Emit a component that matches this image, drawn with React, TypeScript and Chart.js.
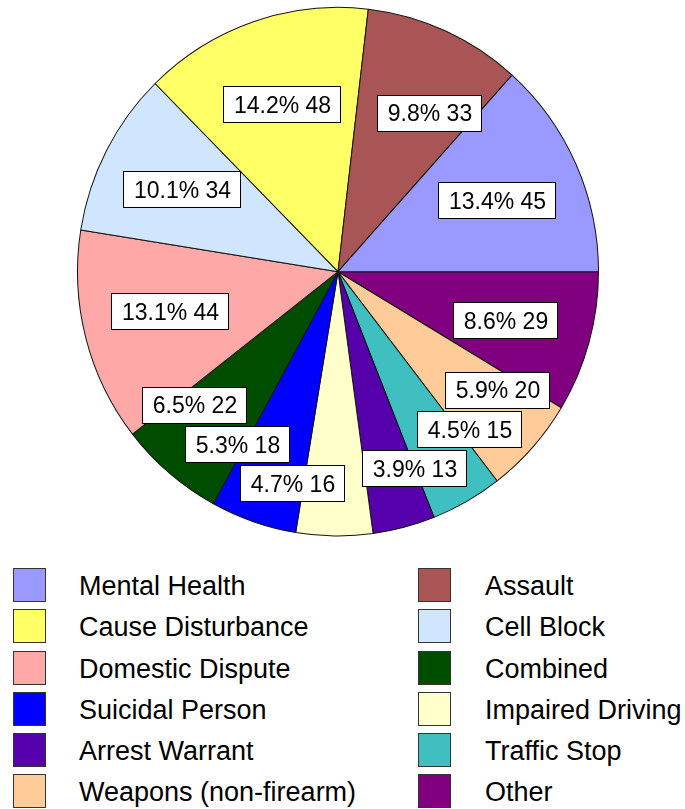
import React, { useEffect, useRef } from "react";
import { Chart, registerables } from "chart.js";

Chart.register(...registerables);

// ---- data ----
const CATEGORIES = [
  "Mental Health",
  "Assault",
  "Cause Disturbance",
  "Cell Block",
  "Domestic Dispute",
  "Combined",
  "Suicidal Person",
  "Impaired Driving",
  "Arrest Warrant",
  "Traffic Stop",
  "Weapons (non-firearm)",
  "Other",
];
const COUNTS = [45, 33, 48, 34, 44, 22, 18, 16, 13, 15, 20, 29];
const COLORS = [
  "#9999FF",
  "#AA5555",
  "#FFFF66",
  "#D0E6FF",
  "#FFA8A8",
  "#004D00",
  "#0000FF",
  "#FFFFCC",
  "#5500AA",
  "#3FBFBF",
  "#FFCC99",
  "#800080",
];

// ---- label placement (layout only): fraction of pie radius, angular shift in degrees (ccw) ----
const LABEL_RADIUS = [0.664, 0.7, 0.674, 0.674, 0.66, 0.748, 0.763, 0.826, 0.805, 0.781, 0.755, 0.663];
const LABEL_SHIFT = [0.2, -5.5, -0.2, -0.6, -1.2, -7.0, -11.4, -11.4, 6.5, 10.2, 5.1, -0.7];

const FONT = '"Liberation Sans", Arial, Helvetica, sans-serif';
const Y_STRETCH = 1.0146;
const N = COUNTS.length;
const rev = <T,>(a: T[]) => a.slice().reverse();

const piePlugin = {
  id: "pieLabels",
  beforeDatasetsDraw(chart: any) {
    const el = chart.getDatasetMeta(0).data[0];
    const ctx = chart.ctx;
    ctx.save();
    ctx.translate(el.x, el.y);
    ctx.scale(1, Y_STRETCH);
    ctx.translate(-el.x, -el.y);
  },
  afterDatasetsDraw(chart: any) {
    const ctx = chart.ctx;
    ctx.restore();
    const meta = chart.getDatasetMeta(0);
    const total = COUNTS.reduce((a, b) => a + b, 0);
    ctx.save();
    ctx.font = `23px ${FONT}`;
    meta.data.forEach((el: any, j: number) => {
      const i = N - 1 - j;
      const { x, y, startAngle, endAngle, outerRadius } = el.getProps(
        ["x", "y", "startAngle", "endAngle", "outerRadius"],
        true
      );
      const mid = (startAngle + endAngle) / 2 - (LABEL_SHIFT[i] * Math.PI) / 180;
      const r = outerRadius * LABEL_RADIUS[i] * (262 / 260.5);
      const cx = x + Math.cos(mid) * r;
      const cy = y + Math.sin(mid) * r;
      const text = `${((COUNTS[i] / total) * 100).toFixed(1)}% ${COUNTS[i]}`;
      const w = Math.round(ctx.measureText(text).width + 19.5);
      const h = 36;
      const left = Math.round(cx - w / 2) + 0.5;
      const top = Math.round(cy - h / 2) + 0.5;
      ctx.fillStyle = "#ffffff";
      ctx.fillRect(left, top, w, h);
      ctx.strokeStyle = "#000000";
      ctx.lineWidth = 1;
      ctx.strokeRect(left, top, w, h);
      ctx.fillStyle = "#000000";
      ctx.textAlign = "center";
      ctx.textBaseline = "alphabetic";
      ctx.fillText(text, left + w / 2 + 0.5, cy + 8.7);
    });
    ctx.restore();
  },
};

export default function App() {
  const ref = useRef<HTMLCanvasElement>(null);

  useEffect(() => {
    document.body.style.margin = "0";
    const chart = new Chart(ref.current as HTMLCanvasElement, {
      type: "pie",
      data: {
        labels: rev(CATEGORIES),
        datasets: [
          {
            data: rev(COUNTS),
            backgroundColor: rev(COLORS),
            borderColor: "#141414",
            borderWidth: 1,
            radius: 260.5,
            clip: false,
          } as any,
        ],
      },
      options: {
        responsive: false,
        maintainAspectRatio: false,
        animation: false,
        events: [],
        rotation: 90,
        layout: { padding: { left: 0, right: 9, top: 0, bottom: 6.6 } },
        plugins: {
          legend: { display: false },
          tooltip: { enabled: false },
          title: { display: false },
        },
      } as any,
      plugins: [piePlugin],
    });
    return () => chart.destroy();
  }, []);

  return (
    <div style={{ position: "relative", width: 685, height: 809, fontFamily: FONT, overflow: "hidden" }}>
      <canvas
        ref={ref}
        width={685}
        height={550}
        style={{ position: "absolute", left: 0, top: 0, width: 685, height: 550 }}
      />
      {CATEGORIES.map((name, i) => {
        const col = i % 2;
        const row = Math.floor(i / 2);
        const rowTop = 568.3 + row * 41.15;
        return (
          <React.Fragment key={name}>
            <div
              style={{
                position: "absolute",
                left: col ? 418 : 13,
                top: rowTop,
                width: 33,
                height: 34,
                boxSizing: "border-box",
                border: "1px solid #333",
                background: COLORS[i],
              }}
            />
            <div
              style={{
                position: "absolute",
                left: col ? 485 : 79,
                top: rowTop + 1.0,
                height: 34,
                lineHeight: "34px",
                fontSize: 27,
                whiteSpace: "nowrap",
                color: "#000",
              }}
            >
              {name}
            </div>
          </React.Fragment>
        );
      })}
    </div>
  );
}
